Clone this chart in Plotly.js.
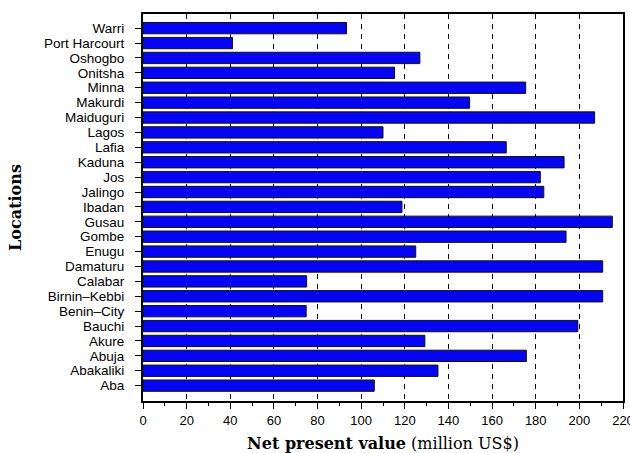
<!DOCTYPE html>
<html>
<head>
<meta charset="utf-8">
<script src="https://cdn.plot.ly/plotly-3.0.1.min.js"></script>
<style>html,body{margin:0;padding:0;background:#fff;}#chart{width:630px;height:453px;}</style>
</head>
<body>
<div id="chart"></div>
<script>
// Locations, bottom to top as drawn
const locations = ["Aba","Abakaliki","Abuja","Akure","Bauchi","Benin–City","Birnin–Kebbi","Calabar",
  "Damaturu","Enugu","Gombe","Gusau","Ibadan","Jalingo","Jos","Kaduna","Lafia","Lagos",
  "Maiduguri","Makurdi","Minna","Onitsha","Oshogbo","Port Harcourt","Warri"];
// Net present value, million US$
const npv = [106.0,135.2,175.7,129.2,199.3,74.8,210.7,75.0,
  210.7,125.0,193.9,215.1,118.7,183.7,182.1,193.0,166.5,110.0,
  207.0,149.7,175.4,115.3,126.9,41.0,93.3];
const xTicks = [0,20,40,60,80,100,120,140,160,180,200,220];

const trace = {
  type: 'bar', orientation: 'h',
  y: locations, x: npv,
  width: 0.76,
  marker: {color: '#0505f2', line: {color: '#111', width: 1}},
  hoverinfo: 'x+y'
};

const layout = {
  width: 630, height: 453,
  margin: {l: 143, r: 7, t: 14, b: 52},
  paper_bgcolor: '#fff', plot_bgcolor: '#fff',
  showlegend: false,
  font: {family: '"Liberation Sans", Arial, sans-serif', size: 13, color: '#000'},
  xaxis: {
    range: [0, 220], autorange: false,
    tickvals: xTicks, ticktext: xTicks.map(String),
    ticklabeloverflow: 'allow',
    ticks: 'outside', ticklen: 6, tickwidth: 1, tickcolor: '#000',
    minor: {dtick: 10, tick0: 0, ticks: 'outside', ticklen: 3, tickcolor: '#000', showgrid: false},
    showgrid: true, gridcolor: '#000', gridwidth: 1, griddash: '5px,5px',
    showline: true, linecolor: '#000', linewidth: 2, mirror: true,
    zeroline: false,
    tickfont: {size: 13},
    title: {text: '<b>Net present value</b> (million US$)', standoff: 14,
      font: {family: '"DejaVu Serif", "Liberation Serif", serif', size: 16}}
  },
  yaxis: {
    type: 'category', range: [-1.03, 24.95], autorange: false,
    tickmode: 'array', tickvals: locations, ticktext: locations,
    ticks: 'outside', ticklen: 6, tickwidth: 1, tickcolor: '#000',
    ticklabelstandoff: 8,
    showgrid: false,
    showline: true, linecolor: '#000', linewidth: 2, mirror: true,
    tickfont: {size: 13.5},
    title: {text: '<b>Locations</b>', standoff: 18,
      font: {family: '"DejaVu Serif", "Liberation Serif", serif', size: 16}}
  }
};

Plotly.newPlot('chart', [trace], layout, {staticPlot: true, displayModeBar: false});
</script>
</body>
</html>
